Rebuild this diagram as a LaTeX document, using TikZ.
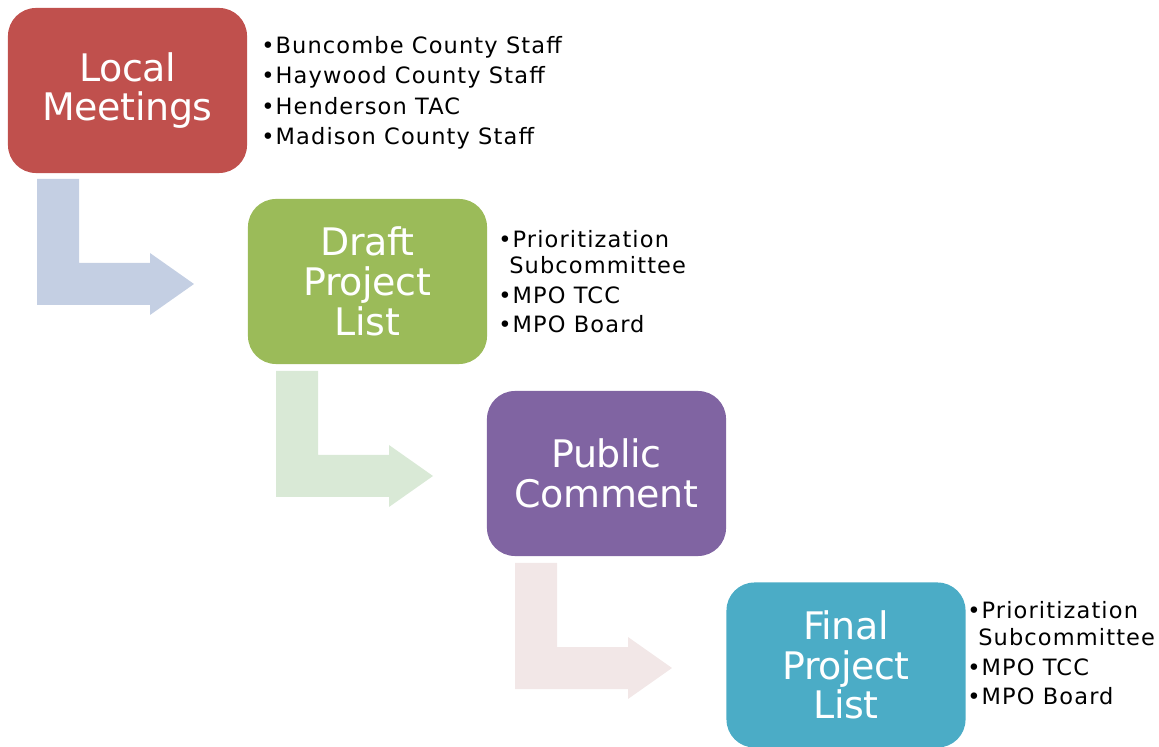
\documentclass[tikz,border=0pt]{standalone}
\usepackage{fontspec}
\setmainfont{DejaVu Sans}
\newfontfamily\boxfont[LetterSpace=-1]{DejaVu Sans}
\newfontfamily\listfont[LetterSpace=5]{DejaVu Sans}

\definecolor{localred}{HTML}{C0504D}
\definecolor{draftgreen}{HTML}{9BBB59}
\definecolor{publicpurple}{HTML}{8064A2}
\definecolor{finalteal}{HTML}{4BACC6}
\definecolor{arrowblue}{RGB}{196,207,227}
\definecolor{arrowgreen}{RGB}{217,233,214}
\definecolor{arrowpink}{RGB}{242,231,231}

\tikzset{
  stepbox/.style={rounded corners=7mm, minimum width=5.975cm, minimum height=4.125cm,
    inner sep=0pt, align=center, text=white, font=\boxfont\fontsize{27}{28.3}\selectfont},
  listline/.style={anchor=base west, inner sep=0pt, font=\listfont\fontsize{16}{19}\selectfont},
}

\begin{document}
\begin{tikzpicture}[x=0.025cm, y=-0.025cm]
  % 1 unit = 1px, y grows downwards
  \useasboundingbox (0,0) rectangle (1159,747);

  % bent arrows between the steps
  \fill[arrowblue, shift={(37,179)}] (0,0) -- (42,0) -- (42,84) -- (113,84) -- (113,74)
    -- (157,105) -- (113,136) -- (113,126) -- (0,126) -- cycle;
  \fill[arrowgreen, shift={(276,371)}] (0,0) -- (42,0) -- (42,84) -- (113,84) -- (113,74)
    -- (157,105) -- (113,136) -- (113,126) -- (0,126) -- cycle;
  \fill[arrowpink, shift={(515,563)}] (0,0) -- (42,0) -- (42,84) -- (113,84) -- (113,74)
    -- (157,105) -- (113,136) -- (113,126) -- (0,126) -- cycle;

  % the four steps
  \node[stepbox, fill=localred] (local) at (127.5,90.5) {Local\\Meetings};
  \node[stepbox, fill=draftgreen] (draft) at (367.5,281.5) {Draft\\Project\\List};
  \node[stepbox, fill=publicpurple] (public) at (606.5,473.5) {Public\\Comment};
  \node[stepbox, fill=finalteal] (final) at (846,665) {Final\\Project\\List};

  % who is met at each step
  \node[listline] (la) at (261,53.5) {•Buncombe County Staff};
  \node[listline] (lb) at (261,84) {•Haywood County Staff};
  \node[listline] (lc) at (261,114.5) {•Henderson TAC};
  \node[listline] (ld) at (261,145) {•Madison County Staff};

  \node[listline] (da) at (498,248) {•Prioritization};
  \node[listline] (db) at (509,274) {Subcommittee};
  \node[listline] (dc) at (498,304) {•MPO TCC};
  \node[listline] (dd) at (498,333) {•MPO Board};

  \node[listline] (fa) at (967,619) {•Prioritization};
  \node[listline] (fb) at (978,645) {Subcommittee};
  \node[listline] (fc) at (967,675) {•MPO TCC};
  \node[listline] (fd) at (967,704) {•MPO Board};
\end{tikzpicture}
\end{document}
